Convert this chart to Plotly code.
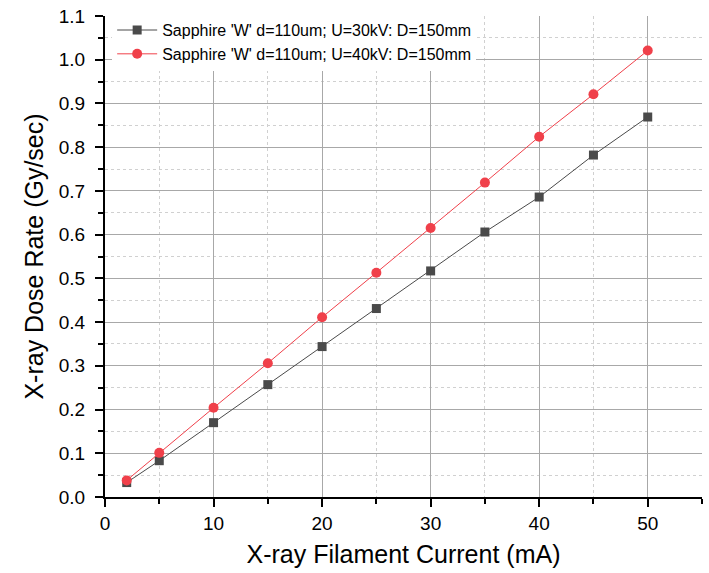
import plotly.graph_objects as go

current = [2, 5, 10, 15, 20, 25, 30, 35, 40, 45, 50]
dose_30kv = [0.033, 0.083, 0.170, 0.257, 0.344, 0.431, 0.517, 0.606, 0.686, 0.782, 0.869]
dose_40kv = [0.038, 0.101, 0.204, 0.306, 0.411, 0.513, 0.615, 0.719, 0.824, 0.921, 1.021]
names = ["Sapphire 'W' d=110um; U=30kV: D=150mm", "Sapphire 'W' d=110um; U=40kV: D=150mm"]

FONT = "Liberation Sans, Arial, sans-serif"

fig = go.Figure()
fig.add_trace(go.Scatter(x=current, y=dose_30kv, mode="lines+markers", name=names[0],
                         line=dict(color="#4a4a4a", width=1),
                         marker=dict(symbol="square", size=9, color="#4a4a4a")))
fig.add_trace(go.Scatter(x=current, y=dose_40kv, mode="lines+markers", name=names[1],
                         line=dict(color="#f0404a", width=1),
                         marker=dict(symbol="circle", size=10, color="#f0404a")))

axis_common = dict(
    showline=True, linecolor="black", linewidth=2,
    ticks="outside", ticklen=8, tickwidth=2, tickcolor="black",
    showgrid=True, gridcolor="#a8a8a8", gridwidth=1,
    zeroline=False, mirror=False,
    tickfont=dict(family=FONT, size=19, color="black"),
)
fig.update_xaxes(range=[0, 55], dtick=10, tick0=0,
                 minor=dict(dtick=5, ticks="outside", ticklen=5, tickwidth=2, tickcolor="black",
                            showgrid=True, gridcolor="#d0d0d0", griddash="dot", gridwidth=1),
                 title=dict(text="X-ray Filament Current (mA)", font=dict(family=FONT, size=25, color="black"), standoff=13),
                 **axis_common)
fig.update_yaxes(range=[0, 1.1], dtick=0.1, tick0=0, tickformat=".1f", ticklabelstandoff=6,
                 minor=dict(dtick=0.05, ticks="outside", ticklen=5, tickwidth=2, tickcolor="black",
                            showgrid=True, gridcolor="#d0d0d0", griddash="dot", gridwidth=1),
                 title=dict(text="X-ray Dose Rate (Gy/sec)", font=dict(family=FONT, size=25, color="black"), standoff=8),
                 **axis_common)

fig.update_layout(
    width=709, height=573,
    margin=dict(l=105, r=7, t=16, b=76),
    plot_bgcolor="white", paper_bgcolor="white",
    showlegend=True,
    legend=dict(x=0.012, y=1.006, xanchor="left", yanchor="top",
                bgcolor="white", borderwidth=0,
                font=dict(family=FONT, size=16, color="black"),
                tracegroupgap=0, itemwidth=40),
)

fig.write_html("out.html")
